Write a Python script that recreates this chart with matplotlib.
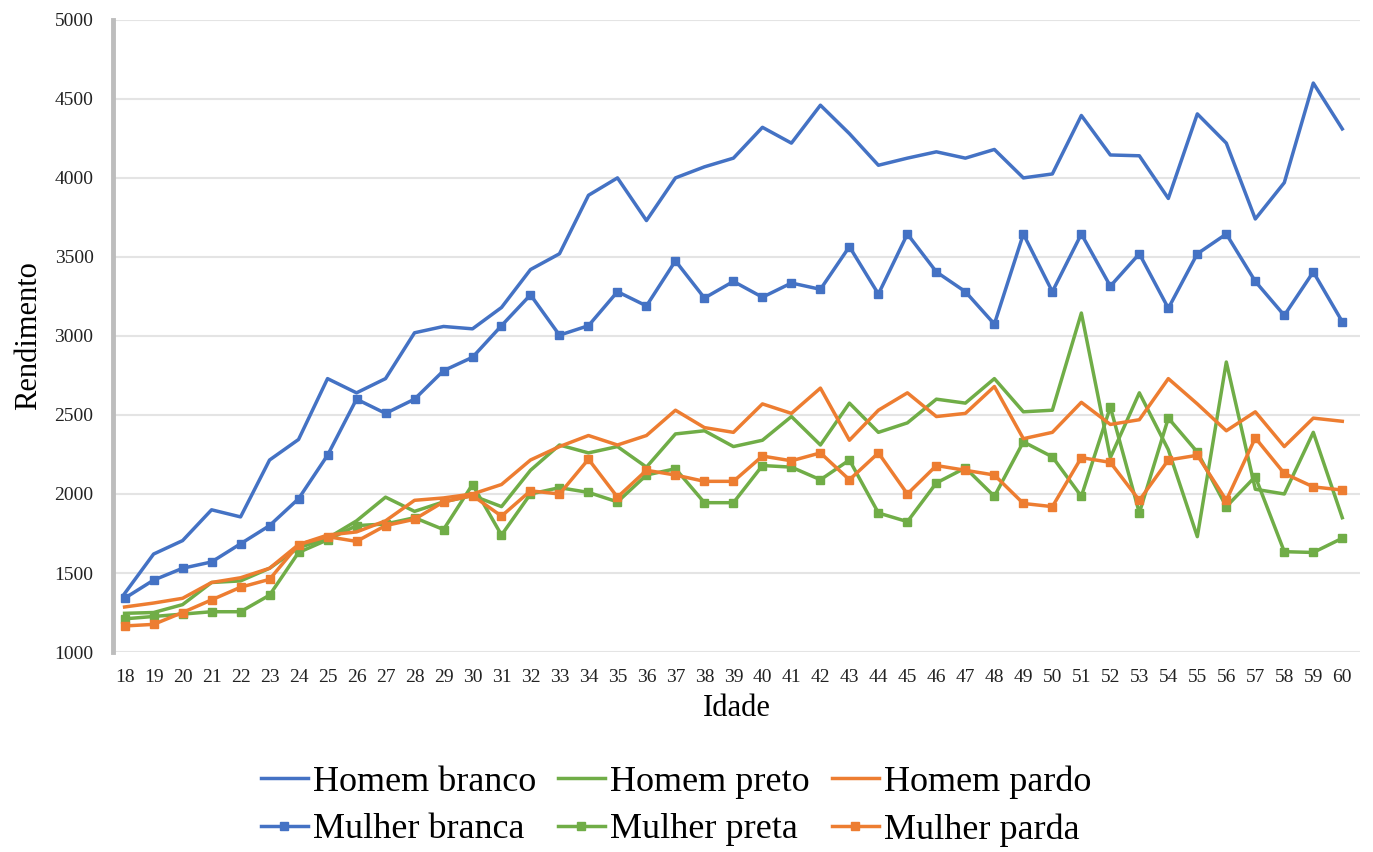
import matplotlib.pyplot as plt

plt.rcParams['font.family'] = ['Liberation Serif', 'DejaVu Serif']

idade = list(range(18, 61))

homem_branco = [1370, 1620, 1705, 1900, 1855, 2215, 2345, 2730, 2640, 2730,
                3020, 3060, 3045, 3180, 3420, 3520, 3890, 4000, 3730, 4000,
                4070, 4125, 4320, 4220, 4460, 4280, 4080, 4125, 4165, 4125,
                4180, 4000, 4025, 4395, 4145, 4140, 3870, 4405, 4220, 3740,
                3970, 4600, 4310]
mulher_branca = [1340, 1455, 1530, 1570, 1685, 1800, 1970, 2245, 2600, 2510,
                 2600, 2780, 2865, 3065, 3260, 3005, 3065, 3280, 3190, 3475,
                 3240, 3345, 3245, 3335, 3295, 3565, 3265, 3645, 3405, 3280,
                 3075, 3645, 3280, 3645, 3315, 3520, 3175, 3520, 3645, 3345,
                 3130, 3405, 3090]
homem_preto = [1245, 1250, 1300, 1440, 1450, 1530, 1660, 1720, 1830, 1980,
               1890, 1950, 1990, 1920, 2150, 2310, 2260, 2300, 2170, 2380,
               2400, 2300, 2340, 2490, 2310, 2575, 2390, 2450, 2600, 2575,
               2730, 2520, 2530, 3145, 2230, 2640, 2280, 1730, 2835, 2030,
               2000, 2390, 1850]
mulher_preta = [1210, 1225, 1240, 1255, 1255, 1360, 1630, 1710, 1800, 1810,
                1850, 1775, 2060, 1740, 2000, 2040, 2010, 1950, 2120, 2160,
                1945, 1945, 2180, 2170, 2090, 2215, 1880, 1825, 2070, 2165,
                1985, 2330, 2235, 1985, 2550, 1880, 2480, 2265, 1920, 2110,
                1635, 1630, 1720]
homem_pardo = [1285, 1310, 1340, 1440, 1470, 1530, 1680, 1740, 1760, 1830,
               1960, 1975, 2000, 2060, 2215, 2300, 2370, 2310, 2370, 2530,
               2420, 2390, 2570, 2510, 2670, 2340, 2530, 2640, 2490, 2510,
               2680, 2350, 2390, 2580, 2440, 2470, 2730, 2570, 2400, 2520,
               2300, 2480, 2460]
mulher_parda = [1165, 1175, 1250, 1330, 1410, 1460, 1680, 1730, 1700, 1800,
                1840, 1950, 1990, 1860, 2020, 2000, 2220, 1980, 2150, 2120,
                2080, 2080, 2240, 2210, 2260, 2090, 2260, 2000, 2180, 2150,
                2120, 1940, 1920, 2230, 2200, 1960, 2215, 2245, 1960, 2355,
                2130, 2045, 2025]

azul = '#4472C4'
verde = '#70AD47'
laranja = '#ED7D31'

fig = plt.figure(figsize=(13.73, 8.52), dpi=100)
ax = fig.add_axes([0.0823, 0.2347, 0.908, 0.742])

lw = 2.5
ms = 5.5
l1, = ax.plot(idade, homem_branco, color=azul, lw=lw, label='Homem branco')
l2, = ax.plot(idade, mulher_branca, color=azul, lw=lw, marker='s', ms=ms, label='Mulher branca')
l3, = ax.plot(idade, homem_preto, color=verde, lw=lw, label='Homem preto')
l4, = ax.plot(idade, mulher_preta, color=verde, lw=lw, marker='s', ms=ms, label='Mulher preta')
l5, = ax.plot(idade, homem_pardo, color=laranja, lw=lw, label='Homem pardo')
l6, = ax.plot(idade, mulher_parda, color=laranja, lw=lw, marker='s', ms=ms, label='Mulher parda')

ax.set_xlim(17.6, 60.6)
ax.set_ylim(1000, 5000)
ax.set_xticks(idade)
ax.set_xticklabels([str(i) for i in idade])
ax.set_yticks(range(1000, 5001, 500))
ax.tick_params(length=0, labelsize=14, colors='#222222')
ax.tick_params(axis='x', pad=12)
ax.tick_params(axis='y', pad=14)
ax.grid(axis='y', color='#e4e4e4', lw=1.5)
ax.set_axisbelow(True)
for s in ['top', 'right', 'bottom']:
    ax.spines[s].set_visible(False)
ax.spines['left'].set_color('#bdbdbd')
ax.spines['left'].set_linewidth(3.5)

ax.set_xlabel('Idade', fontsize=22, labelpad=6)
ax.set_ylabel('Rendimento', fontsize=22, labelpad=8)

fig.legend(handles=[l1, l2, l3, l4, l5, l6], ncol=3, loc='center',
           bbox_to_anchor=(676 / 1373, 1 - 806 / 852), frameon=False,
           fontsize=26, handlelength=1.3, handletextpad=0.15,
           columnspacing=0.6, labelspacing=0.4)

fig.savefig('out.png', dpi=100, facecolor='white')
